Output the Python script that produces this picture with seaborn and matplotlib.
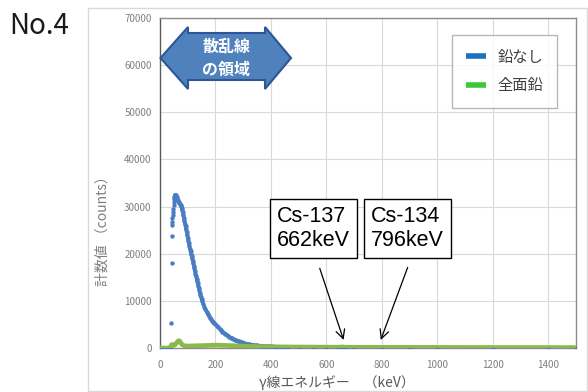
import matplotlib
matplotlib.use("Agg")
import matplotlib.pyplot as plt
from matplotlib.patches import Polygon, Rectangle
from matplotlib.lines import Line2D
import seaborn as sns
import pandas as pd

# --- spectrum data -------------------------------------------------------
# No lead shielding (鉛なし): counts per energy bin
energy_nolead = [0, 10, 20, 30, 38,
                 41, 41.5, 42, 43, 44, 45, 46, 47, 48, 49, 50, 51, 52, 53, 54, 55,
                 56, 58, 60, 62, 64, 66, 68, 70, 72, 74, 76, 78, 80, 82, 84, 86, 88,
                 90, 92, 94, 96, 98, 100, 102, 104, 106, 108, 110, 112, 114, 116, 118,
                 120, 122, 124, 126, 128, 130, 132, 134, 136, 138, 140, 142, 144, 146,
                 148, 150, 152, 156, 160, 164, 168, 172, 176, 180, 184, 188, 192, 196,
                 200, 205, 210, 215, 220, 225, 230, 235, 240, 245, 250, 255, 260, 265,
                 270, 275, 280, 285, 290, 295, 300, 310, 320, 330, 340, 350, 360, 370,
                 380, 390, 400, 410, 420, 430, 440, 450, 460, 500, 550, 600, 640, 650,
                 660, 670, 700, 800, 900, 1000, 1200, 1400, 1500]
counts_nolead = [0, 0, 0, 0, 0,
                 5400, 18100, 23800, 26100, 26800, 27500, 28200, 28800, 29500, 30300,
                 31000, 31600, 32000, 32300, 32400, 32500,
                 32500, 32300, 32000, 31700, 31400, 31100, 30900, 30700, 30500, 30300,
                 30100, 29800, 29300, 28800, 28200, 27600, 27000,
                 26400, 25800, 25200, 24600, 24000, 23400, 22800, 22200, 21600, 21000,
                 20500, 20000, 19500, 19000, 18500,
                 18000, 17400, 16900, 16300, 15800, 15300, 14700, 14200, 13700, 13200,
                 12700, 12200, 11700, 11200,
                 10800, 10400, 10000, 9350, 8750, 8200, 7700, 7250, 6850, 6450, 6100,
                 5800, 5500, 5250,
                 5000, 4700, 4400, 4100, 3800, 3500, 3250, 3000, 2780, 2570, 2380, 2200,
                 2030, 1880,
                 1740, 1610, 1490, 1380, 1280, 1190, 1100, 950, 820, 710, 620, 540, 480,
                 430,
                 390, 350, 320, 295, 270, 250, 235, 220, 210, 190, 170, 150, 160, 280,
                 300, 200, 120, 100, 90, 80, 60, 50, 40]

# Full lead shielding (全面鉛)
energy_lead = [0, 10, 20, 30, 38, 40, 42, 45, 48, 52, 56, 60, 64, 68, 72, 76, 80,
               85, 90, 100, 120, 150, 180, 200, 230, 260, 300, 350, 400, 450, 500,
               600, 700, 800, 1000, 1200, 1500]
counts_lead = [0, 0, 0, 0, 50, 500, 700, 750, 650, 600, 800, 1100, 1400, 1550, 1400,
               1000, 700, 550, 450, 400, 450, 500, 550, 600, 550, 500, 400, 300, 250,
               220, 200, 170, 150, 130, 110, 90, 80]

series_labels = ["鉛なし", "全面鉛"]
x_ticks = [0, 200, 400, 600, 800, 1000, 1200, 1400]
y_ticks = [0, 10000, 20000, 30000, 40000, 50000, 60000, 70000]

# Cs peak markers: (label, energy in keV)
peaks = [("Cs-137\n662keV", 662), ("Cs-134\n796keV", 796)]

df_nolead = pd.DataFrame({"energy": energy_nolead, "counts": counts_nolead})
df_lead = pd.DataFrame({"energy": energy_lead, "counts": counts_lead})
# the dense part of the spectrum, where neighbouring bins merge into a band
df_band = df_nolead[df_nolead["energy"] >= 52]

# --- styling -------------------------------------------------------------
sns.set_theme(style="white")
plt.rcParams["font.family"] = ["Noto Sans CJK JP", "DejaVu Sans"]

BLUE = "#4a7cc4"
GREEN = "#8cb84c"
GRID = "#d9d9d9"
TICK = "#7f7f7f"

W, H = 588, 392
fig = plt.figure(figsize=(W / 100, H / 100), dpi=100)
fig.patch.set_facecolor("white")

# chart frame
fig.patches.append(Rectangle((88 / W, 1 / H), (W - 89) / W, (H - 9) / H,
                             transform=fig.transFigure, fill=False,
                             edgecolor="#d9d9d9", linewidth=1))

ax = fig.add_axes([160 / W, 1 - 348 / H, 416 / W, 330 / H])

sns.lineplot(data=df_band, x="energy", y="counts", color=BLUE, linewidth=2.6,
             ax=ax, zorder=3, legend=False)
sns.scatterplot(data=df_nolead, x="energy", y="counts", color=BLUE, s=10,
                linewidth=0, ax=ax, zorder=3, legend=False)
sns.lineplot(data=df_lead, x="energy", y="counts", color=GREEN, linewidth=3.4,
             ax=ax, zorder=4, legend=False)

ax.set_xlim(0, 1500)
ax.set_ylim(0, 70000)
ax.set_xticks(x_ticks)
ax.set_yticks(y_ticks)
ax.set_xticklabels([str(v) for v in x_ticks])
ax.set_yticklabels([str(v) for v in y_ticks])
ax.tick_params(axis="both", labelsize=7, colors=TICK, length=0)
ax.tick_params(axis="x", pad=9)
ax.tick_params(axis="y", pad=6)
ax.grid(True, color=GRID, linewidth=0.8)
ax.set_axisbelow(True)
for side in ["left", "right", "top", "bottom"]:
    ax.spines[side].set_color("#8c8c8c")
    ax.spines[side].set_linewidth(1.0)
ax.spines["left"].set_color("#595959")
ax.set_xlabel("")
ax.set_ylabel("")

# axis titles
fig.text(337 / W, 1 - 383 / H, "γ線エネルギー　（keV）", ha="center", va="center",
         fontsize=10, color="#595959")
fig.text(103 / W, 1 - 228 / H, "計数値 （counts）", ha="center", va="center",
         rotation=90, fontsize=10, color="#7f7f7f")

# figure number
fig.text(9 / W, 1 - 26 / H, "No.4", ha="left", va="center", fontsize=20,
         color="#1a1a1a")

# double-headed block arrow for the scatter region
def px(x, y):
    return ((x - 160) / 416, (348 - y) / 330)

arrow_pts = [px(160.5, 58), px(188, 27), px(188, 33), px(265, 33), px(265, 27),
             px(291, 58), px(265, 89), px(265, 80), px(188, 80), px(188, 89)]
ax.add_patch(Polygon(arrow_pts, closed=True, transform=ax.transAxes,
                     facecolor="#4f81bd", edgecolor="#2e5597", linewidth=1.5,
                     zorder=6, clip_on=False))
ax.text(*px(226, 47), "散乱線", transform=ax.transAxes, ha="center", va="center",
        color="white", fontsize=11.5, fontweight="bold", zorder=7)
ax.text(*px(226, 70), "の領域", transform=ax.transAxes, ha="center", va="center",
        color="white", fontsize=11.5, fontweight="bold", zorder=7)

# peak annotation boxes with arrows pointing at the peak energies
box_pos = [(554, 25350), (891, 25350)]
arrow_start = [(576, 16900), (893, 17100)]
for (label, e), (bx, by), (sx, sy) in zip(peaks, box_pos, arrow_start):
    ax.text(bx, by, label, ha="center", va="center", fontsize=15.5,
            family="Liberation Sans", color="black", multialignment="left",
            linespacing=1.2, zorder=8,
            bbox=dict(boxstyle="square,pad=0.33", facecolor="white",
                      edgecolor="black", linewidth=1.0))
    ax.annotate("", xy=(e, 1700), xytext=(sx, sy),
                arrowprops=dict(arrowstyle="->", color="black", lw=0.9,
                                mutation_scale=16, shrinkA=0, shrinkB=0),
                zorder=8)

# legend
handles = [Line2D([0], [0], color="#1f6fc0", linewidth=4, solid_capstyle="butt"),
           Line2D([0], [0], color="#3cc83c", linewidth=4, solid_capstyle="butt")]
leg = ax.legend(handles, series_labels, loc="upper left",
                bbox_to_anchor=((452 - 160) / 416, (348 - 35) / 330),
                fontsize=11, frameon=True, fancybox=False, handlelength=1.3,
                handletextpad=0.8, borderpad=0.9, labelspacing=0.75,
                borderaxespad=0)
leg.get_frame().set_edgecolor("#a6a6a6")
leg.get_frame().set_linewidth(1.0)
for t in leg.get_texts():
    t.set_color("#404040")
leg.set_zorder(9)

fig.savefig("out.png", dpi=100)
